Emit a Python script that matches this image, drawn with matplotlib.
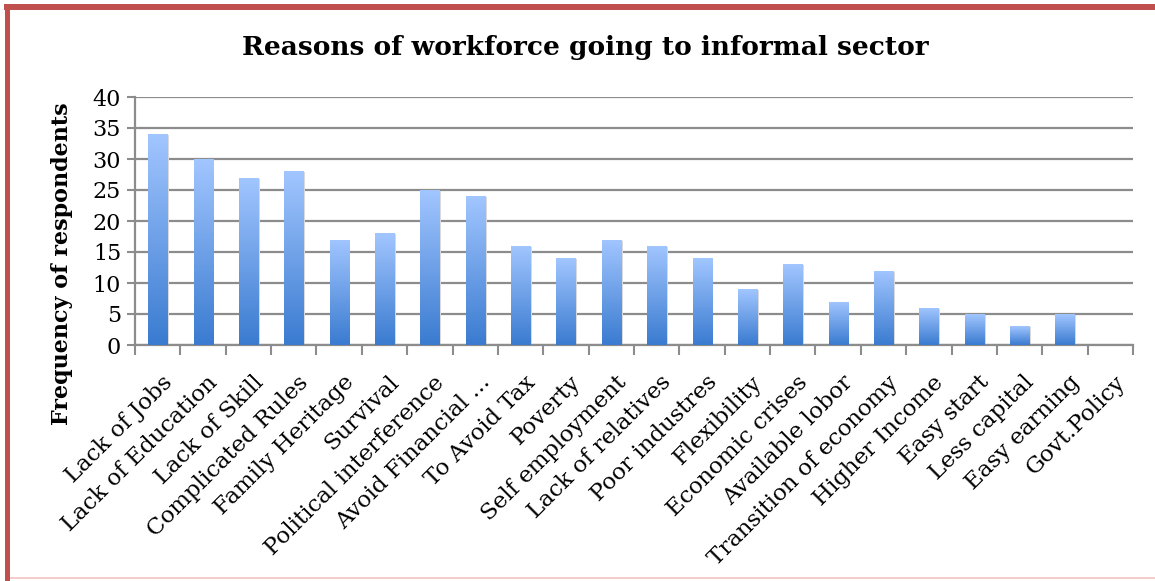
import matplotlib.pyplot as plt
import numpy as np
from matplotlib.colors import LinearSegmentedColormap
from matplotlib.patches import Rectangle

# Datos
categorias = ["Lack of Jobs", "Lack of Education", "Lack of Skill", "Complicated Rules",
              "Family Heritage", "Survival", "Political interference", "Avoid Financial ...",
              "To Avoid Tax", "Poverty", "Self employment", "Lack of relatives",
              "Poor industres", "Flexibility", "Economic crises", "Available lobor",
              "Transition of economy", "Higher Income", "Easy start", "Less capital",
              "Easy earning", "Govt.Policy"]
frecuencias = [34, 30, 27, 28, 17, 18, 25, 24, 16, 14, 17, 16, 14, 9, 13, 7, 12, 6, 5, 3, 5, 0]
y_ticks = [0, 5, 10, 15, 20, 25, 30, 35, 40]

fuente = "DejaVu Serif"
W, H = 1155, 581
fig = plt.figure(figsize=(W / 100, H / 100), dpi=100)
ax = fig.add_axes([135 / W, (H - 345) / H, 998 / W, 248 / H])

x = np.arange(len(categorias))
gris = "#8c8c8c"

# gradiente de las barras
cmap = LinearSegmentedColormap.from_list("azul", ["#3a7bd0", "#a2c6ff"])
grad = np.linspace(0, 1, 256).reshape(-1, 1)
ancho = 0.42
barras = ax.bar(x, frecuencias, width=ancho, color="none", zorder=3)
for b, v in zip(barras, frecuencias):
    if v <= 0:
        continue
    # sombra suave
    ax.add_patch(Rectangle((b.get_x() + 0.04, 0), ancho, v - 0.15, color="#d9d9d9", zorder=2.5, lw=0))
    im = ax.imshow(grad, cmap=cmap, aspect="auto", origin="lower",
                   extent=(b.get_x(), b.get_x() + ancho, 0, v), zorder=3)
    im.set_clip_path(b)

ax.set_xlim(-0.5, len(categorias) - 0.5)
ax.set_ylim(0, 40)
ax.set_yticks(y_ticks)
ax.set_yticklabels([str(t) for t in y_ticks], fontsize=16, family=fuente)
ax.yaxis.grid(True, color=gris, lw=1.6, zorder=1)
ax.set_axisbelow(True)

# marcas entre categorias
ax.set_xticks(np.arange(len(categorias) + 1) - 0.5)
ax.set_xticklabels([])
ax.tick_params(axis="x", length=7, width=1.5, color=gris)
ax.tick_params(axis="y", length=6, width=1.5, color=gris, pad=4)
ax.set_xticks(x + 0.08, minor=True)
ax.set_xticklabels(categorias, minor=True, rotation=45, ha="right",
                   rotation_mode="anchor", fontsize=16.5, family=fuente)
ax.tick_params(axis="x", which="minor", length=0, pad=19)

for s in ["top", "right"]:
    ax.spines[s].set_visible(False)
ax.spines["left"].set_color(gris)
ax.spines["left"].set_linewidth(1.6)
ax.spines["bottom"].set_color(gris)
ax.spines["bottom"].set_linewidth(1.6)

fig.text(62 / W, 1 - 264 / H, "Frequency of respondents", rotation=90,
         ha="center", va="center", fontsize=16, fontweight="bold", family=fuente)
fig.text(585 / W, 1 - 47 / H, "Reasons of workforce going to informal sector",
         ha="center", va="center", fontsize=19, fontweight="bold", family=fuente)

# marco
fig.patches.append(Rectangle((4 / W, 1 - 10 / H), 1, 6 / H, transform=fig.transFigure,
                             color="#c0504d", lw=0))
fig.patches.append(Rectangle((5 / W, 0), 5 / W, 1 - 4 / H, transform=fig.transFigure,
                             color="#c0504d", lw=0))
fig.patches.append(Rectangle((10 / W, 2 / H), 1, 2 / H, transform=fig.transFigure,
                             color="#f4cccc", lw=0))

fig.savefig("out.png", dpi=100)
